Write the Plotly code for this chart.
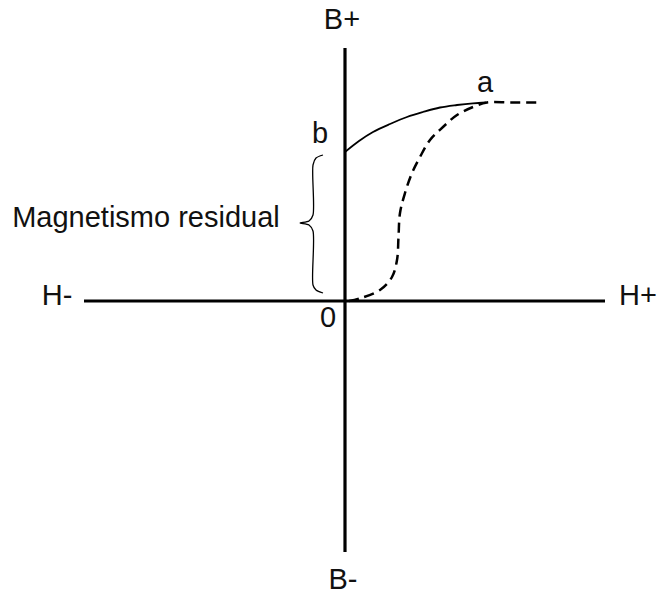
import plotly.graph_objects as go

# Coordinates (H, B) relative to the origin
solid_H = [0, 14, 28, 45, 62, 78, 95, 112, 128, 141]
solid_B = [149, 160, 169, 177, 184, 189, 193.5, 196, 197.7, 198.5]

dashed_H = [4, 15, 35, 47, 52, 53.5, 55, 60, 67, 75, 85, 98, 112, 128, 142, 165, 192]
dashed_B = [0, 2.7, 11, 24, 41, 64, 88, 108, 128, 144, 161, 174, 186, 194, 198.5, 198.5, 198.5]

brace_H = [-22, -29, -32, -32, -36, -45, -36, -32, -32, -29, -22]
brace_B = [146, 143, 136, 86, 80, 78, 76, 70, 16, 11, 8]

axis_H = [-261, 260]
axis_B = [-251, 253]

labels = ["B+", "B-", "H-", "H+", "0", "a", "b", "Magnetismo residual"]
label_H = [-3, -2, -288, 293, -17, 140, -25, -199]
label_B = [279, -281, 3, 3, -19, 216, 165, 81]

fig = go.Figure()

# axes
fig.add_trace(go.Scatter(x=axis_H, y=[0, 0], mode="lines",
                         line=dict(color="black", width=3.2), hoverinfo="skip"))
fig.add_trace(go.Scatter(x=[0, 0], y=axis_B, mode="lines",
                         line=dict(color="black", width=3.2), hoverinfo="skip"))

# curves
fig.add_trace(go.Scatter(x=dashed_H, y=dashed_B, mode="lines",
                         line=dict(color="black", width=2.5, dash="10px,6px", shape="spline"),
                         hoverinfo="skip"))
fig.add_trace(go.Scatter(x=solid_H, y=solid_B, mode="lines",
                         line=dict(color="black", width=1.8, shape="spline"),
                         hoverinfo="skip"))
fig.add_trace(go.Scatter(x=brace_H, y=brace_B, mode="lines",
                         line=dict(color="black", width=1.3, shape="spline", smoothing=0.8),
                         hoverinfo="skip"))

fig.add_trace(go.Scatter(x=label_H, y=label_B, mode="text", text=labels,
                         textposition="middle center",
                         textfont=dict(family="Arial, Liberation Sans, sans-serif",
                                       size=29, color="#111111"),
                         hoverinfo="skip"))

fig.update_layout(
    width=660, height=594,
    margin=dict(l=0, r=0, t=0, b=0),
    paper_bgcolor="white", plot_bgcolor="white",
    showlegend=False,
    xaxis=dict(range=[-345, 315], visible=False, fixedrange=True),
    yaxis=dict(range=[-293, 301], visible=False, fixedrange=True),
)

fig.write_html("out.html", config={"displayModeBar": False},
               post_script="document.body.style.margin='0';document.body.style.padding='0';")
